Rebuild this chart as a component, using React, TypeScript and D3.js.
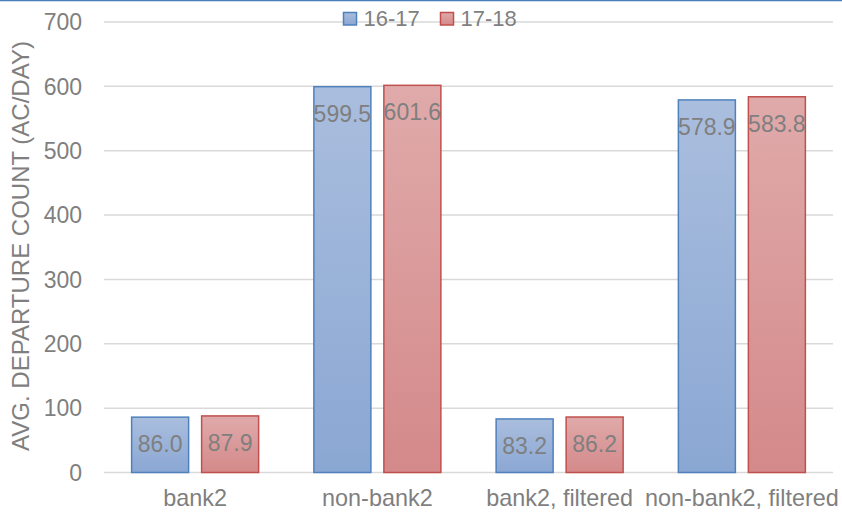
import React from "react";
import * as d3 from "d3";

const categories = ["bank2", "non-bank2", "bank2, filtered", "non-bank2, filtered"];
const seriesNames = ["16-17", "17-18"];
const values1617 = [86.0, 599.5, 83.2, 578.9];
const values1718 = [87.9, 601.6, 86.2, 583.8];
const yTicks = [0, 100, 200, 300, 400, 500, 600, 700];

const W = 842;
const H = 512;
const FONT = "'Liberation Sans', Arial, sans-serif";

export default function App() {
  const x = d3.scaleBand<string>().domain(categories).range([104, 833]);
  const y = d3.scaleLinear().domain([0, 700]).range([472.5, 22]);
  const barW = 57;
  const gap = 13;

  const series = [
    { name: seriesNames[0], values: values1617, grad: "g-blue", stroke: "#4F81BD", top: "#AABEDE", bottom: "#8AA7D3" },
    { name: seriesNames[1], values: values1718, grad: "g-red", stroke: "#C0504D", top: "#E0AAAA", bottom: "#D4898A" },
  ];

  return (
    <svg width={W} height={H} style={{ position: "absolute", left: 0, top: 0 }} fontFamily={FONT}>
      <defs>
        {series.map((s) => (
          <linearGradient key={s.grad} id={s.grad} x1="0" y1="0" x2="0" y2="1">
            <stop offset="0" stopColor={s.top} />
            <stop offset="1" stopColor={s.bottom} />
          </linearGradient>
        ))}
      </defs>
      <rect x={0} y={0} width={W} height={H} fill="#fff" />
      <line x1={0} x2={W} y1={0.5} y2={0.5} stroke="#4A7EBB" strokeWidth={1.5} />

      {yTicks.map((t) => (
        <g key={t}>
          <line x1={104} x2={833} y1={y(t)} y2={y(t)} stroke="#D9D9D9" strokeWidth={1.5} />
          <text x={82} y={y(t) + 8.3} textAnchor="end" fontSize={23} fill="#7F7F7F">
            {t}
          </text>
        </g>
      ))}

      <text
        transform={`translate(29,246) rotate(-90)`}
        textAnchor="middle"
        fontSize={24}
        fill="#7F7F7F"
      >
        AVG. DEPARTURE COUNT (AC/DAY)
      </text>

      {categories.map((c, i) => {
        const cx = (x(c) as number) + x.bandwidth() / 2;
        return (
          <g key={c}>
            {series.map((s, j) => {
              const v = s.values[i];
              const bx = j === 0 ? cx - gap / 2 - barW : cx + gap / 2;
              const by = y(v);
              return (
                <g key={s.name}>
                  <rect
                    x={bx}
                    y={by}
                    width={barW}
                    height={y(0) - by}
                    fill={`url(#${s.grad})`}
                    stroke={s.stroke}
                    strokeWidth={1.5}
                  />
                  <text x={bx + barW / 2} y={by + 35} textAnchor="middle" fontSize={23} fill="#7F7F7F">
                    {v.toFixed(1)}
                  </text>
                </g>
              );
            })}
            <text x={cx} y={506} textAnchor="middle" fontSize={23.4} fill="#7F7F7F">
              {c}
            </text>
          </g>
        );
      })}

      {series.map((s, j) => {
        const lx = j === 0 ? 343.5 : 440.5;
        return (
          <g key={s.name}>
            <rect x={lx} y={12.5} width={13} height={12.5} fill={`url(#${s.grad})`} stroke={s.stroke} strokeWidth={1.5} />
            <text x={lx + 20} y={26} fontSize={22} fill="#7F7F7F">
              {s.name}
            </text>
          </g>
        );
      })}
    </svg>
  );
}
